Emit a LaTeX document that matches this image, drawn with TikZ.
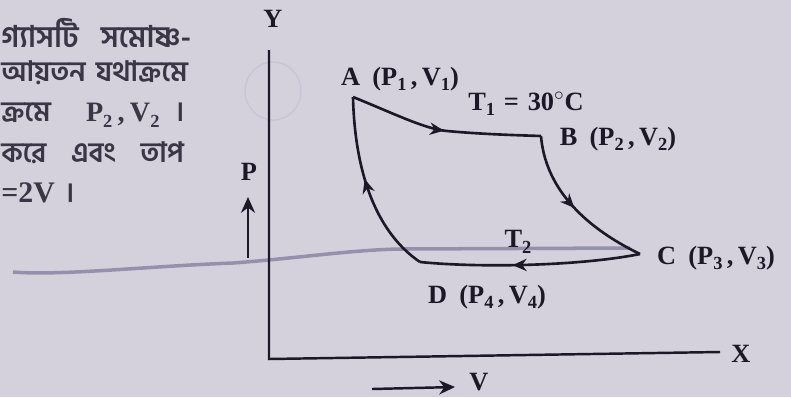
\documentclass[tikz,border=0pt]{standalone}
\usepackage{fontspec}
\setmainfont{Liberation Serif}
\newfontfamily\bnfont[Script=Bengali]{Hind Siliguri}
\usetikzlibrary{arrows.meta,decorations.markings}
\definecolor{paper}{RGB}{212,208,220}
\definecolor{ink}{RGB}{28,24,38}
\definecolor{bnink}{RGB}{58,54,70}
\definecolor{pencil}{RGB}{138,134,165}
\newcommand\lsub[1]{\raisebox{-0.45ex}{\fontsize{10.5}{11}\selectfont #1}}
\newcommand\lbltxt[3]{#1\hspace{7pt}(P\lsub{#2}\hspace{2.5pt},\hspace{2.5pt}V\lsub{#3})}
\tikzset{
  x=0.02cm, y=-0.02cm,
  curve/.style={draw=ink, line width=1.5pt},
  midarrow/.style={postaction={decorate}, decoration={markings,
     mark=at position #1 with {\arrow{Stealth[length=8pt,width=7pt]}}}},
  lbl/.style={text=ink, font=\fontsize{15}{17}\selectfont\bfseries, inner sep=0pt},
  bn/.style={text=bnink, font=\fontsize{16}{18}\selectfont\bfseries, inner sep=0pt, anchor=west},
  axis/.style={draw=ink, line width=1.4pt},
}
\begin{document}
\begin{tikzpicture}
\fill[paper] (0,0) rectangle (791,397);
\useasboundingbox (0,0) rectangle (791,397);

% left text (as far as it is visible)
\node[bn] (t1) at (1,33) {\hbox to 108pt{\bnfont\fontsize{17}{19}\selectfont গ্যাসটি\hfill সমোষ্ণ-}};
\node[bn] (t2) at (1,73) {\hbox to 106pt{\bnfont আয়তন\hfill যথাক্রমে}};
\node[bn] (t3) at (1,115) {\hbox to 104pt{\bnfont ক্রমে\hfill{\rmfamily\fontsize{16}{18}\selectfont P\lsub{2}\hspace{3pt},\hspace{3pt}V\lsub{2}}\hspace{9pt}।}};
\node[bn] (t4) at (1,153) {\hbox to 104pt{\bnfont করে\hfill এবং\hfill তাপ}};
\node[bn] (t5) at (1,193) {{\rmfamily\fontsize{17}{19}\selectfont =2V}\hspace{6pt}\bnfont ।};

% faint marks on the paper
\draw[pencil, line width=2pt, opacity=0.85] (13,272) .. controls (60,276) and (150,266) .. (233,263)
   .. controls (300,258) and (350,250) .. (400,249) -- (630,248);
\draw[pencil!55, line width=0.8pt, opacity=0.5] (273,91) ellipse (28 and 29);

% axes
\coordinate (O) at (269,359);
\coordinate (Ytop) at (269,50);
\coordinate (Xend) at (720,352);
\draw[axis] (Ytop) -- (O) -- (Xend);
\node[lbl] (Y) at (273,19) {Y};
\node[lbl] (X) at (741,354) {X};

% P and V arrows
\coordinate (p0) at (248,258);
\coordinate (p1) at (248,197);
\draw[draw=ink, line width=1.4pt, -{Stealth[length=9pt,width=8pt]}] (p0) -- (p1);
\node[lbl] (P) at (249,172) {P};
\coordinate (v0) at (372,389);
\coordinate (v1) at (455,387);
\draw[draw=ink, line width=1.4pt, -{Stealth[length=9pt,width=8pt]}] (v0) -- (v1);
\node[lbl] (V) at (479,382) {V};

% cycle
\coordinate (A) at (353,97);
\coordinate (B) at (541,136);
\coordinate (C) at (640,254);
\coordinate (D) at (420,262);
\draw[curve, midarrow=0.5] (A) .. controls (395,114) and (425,129) .. (447,131)
   .. controls (480,134) and (510,135) .. (B);
\draw[curve, midarrow=0.5] (B) .. controls (545,185) and (580,225) .. (C);
\draw[curve, midarrow=0.58] (C) .. controls (580,266) and (480,268) .. (D);
\draw[curve, midarrow=0.55] (D) .. controls (380,235) and (355,180) .. (A);

% labels
\node[lbl] (LA) at (400,79) {\lbltxt{A}{1}{1}};
\node[lbl] (LT1) at (526,104) {T\lsub{1}\hspace{5pt}=\hspace{5pt}30$^{\circ}$C};
\node[lbl] (LB) at (618,139) {\lbltxt{B}{2}{2}};
\node[lbl] (LC) at (716,258) {\lbltxt{C}{3}{3}};
\node[lbl] (LT2) at (518,242) {T\lsub{2}};
\node[lbl] (LD) at (487,297) {\lbltxt{D}{4}{4}};
\end{tikzpicture}
\end{document}
